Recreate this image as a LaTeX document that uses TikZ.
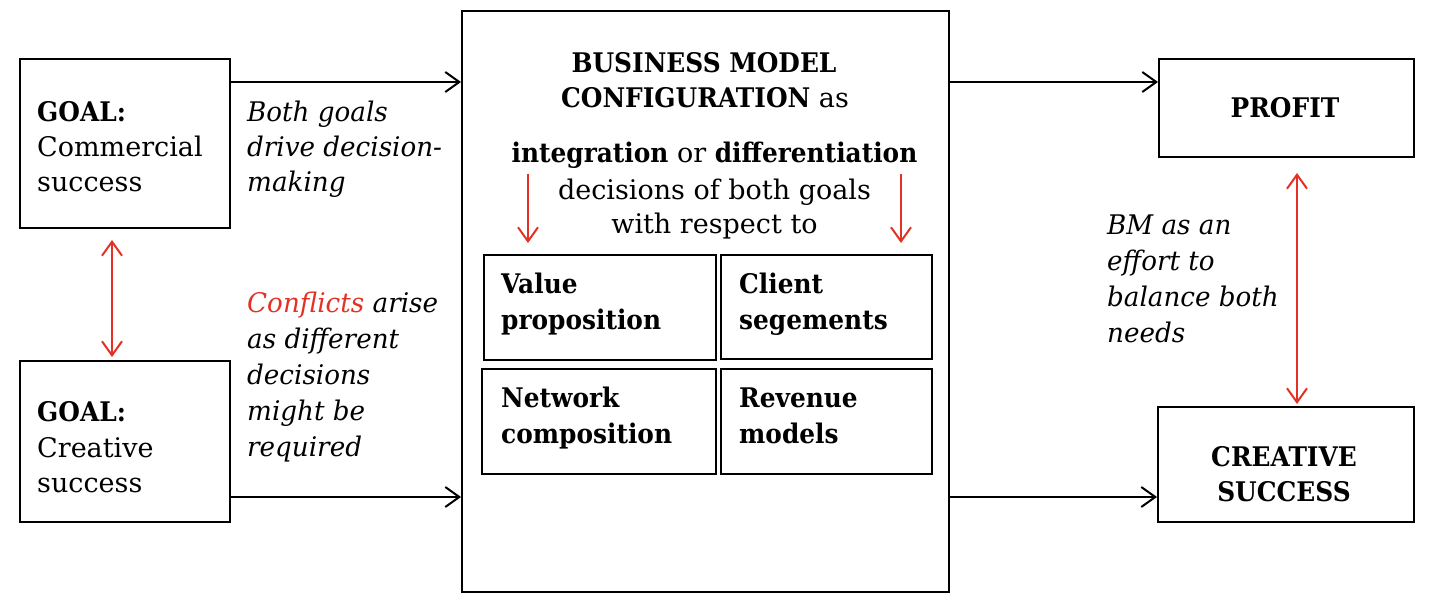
\documentclass[tikz,border=0pt]{standalone}
\usepackage{fontspec}
\setmainfont{DejaVu Serif}[BoldFeatures={FakeStretch=0.92}, ItalicFeatures={FakeStretch=0.97}]
\usetikzlibrary{arrows.meta}
\definecolor{myred}{RGB}{228,49,37}
\tikzset{
  box/.style={draw, line width=2pt, anchor=north west, inner sep=0pt},
  txt/.style={anchor=base west, inner sep=0pt, font=\fontsize{27}{35}\selectfont},
  ctxt/.style={anchor=base, inner sep=0pt, font=\fontsize{27}{35}\selectfont},
  arr/.style={line width=2pt, -{Straight Barb[length=14pt,width=20pt]}},
  redarr/.style={line width=2pt, myred, -{Straight Barb[length=14pt,width=20pt]}},
  redboth/.style={line width=2pt, myred, {Straight Barb[length=14pt,width=20pt]}-{Straight Barb[length=14pt,width=20pt]}}
}
\begin{document}
\begin{tikzpicture}[x=1pt,y=-1pt]
\useasboundingbox (0,0) rectangle (1438,607);
% boxes
\node[box, minimum width=210pt, minimum height=169pt] (goal1) at (19,58) {};
\node[box, minimum width=210pt, minimum height=161pt] (goal2) at (19,360) {};
\node[box, minimum width=487pt, minimum height=581pt] (bmc) at (461,10) {};
\node[box, minimum width=255pt, minimum height=98pt] (profit) at (1158,58) {};
\node[box, minimum width=256pt, minimum height=115pt] (creative) at (1157,406) {};
\node[box, minimum width=232pt, minimum height=105pt] (vp) at (483,254) {};
\node[box, minimum width=211pt, minimum height=104pt] (cs) at (720,254) {};
\node[box, minimum width=234pt, minimum height=105pt] (nc) at (481,368) {};
\node[box, minimum width=211pt, minimum height=105pt] (rm) at (720,368) {};
% goal texts
\node[txt] (g1a) at (37,122) {\textbf{GOAL:}};
\node[txt] (g1b) at (37,157) {Commercial};
\node[txt] (g1c) at (37,192) {success};
\node[txt] (g2a) at (37,421) {\textbf{GOAL:}};
\node[txt] (g2b) at (37,457) {Creative};
\node[txt] (g2c) at (37,492) {success};
% italic notes
\node[txt] (bg1) at (247,122) {\itshape Both goals};
\node[txt] (bg2) at (247,157) {\itshape drive decision-};
\node[txt] (bg3) at (247,192) {\itshape making};
\node[txt] (cf1) at (247,312) {\itshape\textcolor{myred}{Conflicts} arise};
\node[txt] (cf2) at (247,348) {\itshape as different};
\node[txt] (cf3) at (247,384) {\itshape decisions};
\node[txt] (cf4) at (247,420) {\itshape might be};
\node[txt] (cf5) at (247,456) {\itshape required};
\node[txt] (bm1) at (1107,234) {\itshape BM as an};
\node[txt] (bm2) at (1107,270) {\itshape effort to};
\node[txt] (bm3) at (1107,306) {\itshape balance both};
\node[txt] (bm4) at (1107,342) {\itshape needs};
% central texts
\node[ctxt] (c1) at (704,73) {\textbf{BUSINESS MODEL}};
\node[ctxt] (c2) at (705,108) {\textbf{CONFIGURATION} as};
\node[ctxt] (c3) at (714.5,163) {\textbf{integration} or \textbf{differentiation}};
\node[ctxt] (c4) at (714.5,199) {decisions of both goals};
\node[ctxt] (c5) at (714.5,233) {with respect to};
% inner texts
\node[txt] (vp1) at (501,293) {\textbf{Value}};
\node[txt] (vp2) at (501,329) {\textbf{proposition}};
\node[txt] (cs1) at (739,293) {\textbf{Client}};
\node[txt] (cs2) at (739,329) {\textbf{segements}};
\node[txt] (nc1) at (501,407) {\textbf{Network}};
\node[txt] (nc2) at (501,443) {\textbf{composition}};
\node[txt] (rm1) at (739,407) {\textbf{Revenue}};
\node[txt] (rm2) at (739,443) {\textbf{models}};
% right texts
\node[ctxt] (pr) at (1285,118) {\textbf{PROFIT}};
\node[ctxt] (cr1) at (1284,466) {\textbf{CREATIVE}};
\node[ctxt] (cr2) at (1284,501) {\textbf{SUCCESS}};
% arrows
\draw[arr] (goal1.east |- 0,82) -- (bmc.west |- 0,82);
\draw[arr] (goal2.east |- 0,497) -- (bmc.west |- 0,497);
\draw[arr] (bmc.east |- 0,82) -- (profit.west |- 0,82);
\draw[arr] (bmc.east |- 0,497) -- (creative.west |- 0,497);
\draw[redboth] (112,240) -- (112,357);
\draw[redboth] (1297,173) -- (1297,404);
\coordinate (d1s) at (528,174);
\coordinate (d1e) at (528,243);
\coordinate (d2s) at (901,174);
\coordinate (d2e) at (901,243);
\draw[redarr] (d1s) -- (d1e);
\draw[redarr] (d2s) -- (d2e);
\end{tikzpicture}
\end{document}
